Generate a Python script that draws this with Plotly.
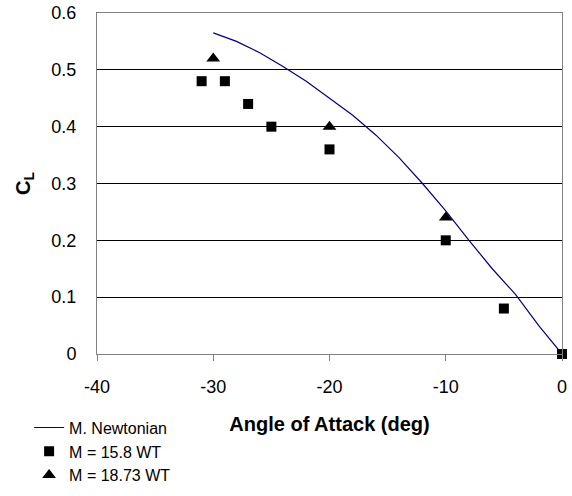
import plotly.graph_objects as go

# Modified Newtonian prediction of lift coefficient
newt_alpha = [-30, -28, -26, -24, -22, -20, -18, -16, -14, -12, -10, -8, -6, -4, -2, 0]
newt_cl = [0.565, 0.550, 0.530, 0.506, 0.480, 0.450, 0.420, 0.385, 0.345, 0.300,
           0.252, 0.200, 0.150, 0.105, 0.050, 0.0]

# Wind tunnel data, M = 15.8
wt158_alpha = [-31, -29, -27, -25, -20, -10, -5, 0]
wt158_cl = [0.48, 0.48, 0.44, 0.40, 0.36, 0.20, 0.08, 0.0]

# Wind tunnel data, M = 18.73
wt1873_alpha = [-30, -20, -10]
wt1873_cl = [0.52, 0.40, 0.24]

x_ticks = [-40, -30, -20, -10, 0]
y_ticks = [0, 0.1, 0.2, 0.3, 0.4, 0.5, 0.6]

FONT = "Liberation Sans, Arial, sans-serif"

fig = go.Figure()
fig.add_trace(go.Scatter(
    x=newt_alpha, y=newt_cl, mode="lines", name="M. Newtonian",
    line=dict(color="#000080", width=1.2), cliponaxis=False))
fig.add_trace(go.Scatter(
    x=wt158_alpha, y=wt158_cl, mode="markers", name="M = 15.8 WT",
    marker=dict(symbol="square", size=10, color="black"), cliponaxis=False))
fig.add_trace(go.Scatter(
    x=wt1873_alpha, y=wt1873_cl, mode="markers", name="M = 18.73 WT",
    marker=dict(symbol="triangle-up", size=12, color="black"), cliponaxis=False))

fig.update_layout(
    width=572, height=496,
    margin=dict(l=97, r=10, t=13, b=142, autoexpand=False),
    paper_bgcolor="white", plot_bgcolor="white",
    font=dict(family=FONT, size=18, color="black"),
    showlegend=True,
    legend=dict(x=-0.146, y=-0.166, xanchor="left", yanchor="top",
                bgcolor="rgba(0,0,0,0)", font=dict(size=16),
                tracegroupgap=0, itemwidth=30),
    xaxis=dict(
        range=[-40, 0], tickvals=x_ticks, ticktext=[str(v) for v in x_ticks],
        showgrid=False, zeroline=False, automargin=False,
        showline=True, linecolor="#808080", linewidth=1, mirror=True,
        ticks="outside", ticklen=6, tickcolor="#808080",
        ticklabelstandoff=10,
        tickfont=dict(size=18),
        title=dict(text="<b>Angle of Attack (deg)</b>", font=dict(size=20), standoff=21)),
    yaxis=dict(
        range=[0, 0.6], tickvals=y_ticks, ticktext=["0", "0.1", "0.2", "0.3", "0.4", "0.5", "0.6"],
        showgrid=True, gridcolor="black", gridwidth=1, zeroline=False, automargin=False,
        showline=True, linecolor="#808080", linewidth=1, mirror=True,
        ticks="", ticklabelstandoff=16,
        tickfont=dict(size=18),
        title=dict(text="<b>C<sub>L</sub></b>", font=dict(size=20))),
)

fig.write_html("out.html")
